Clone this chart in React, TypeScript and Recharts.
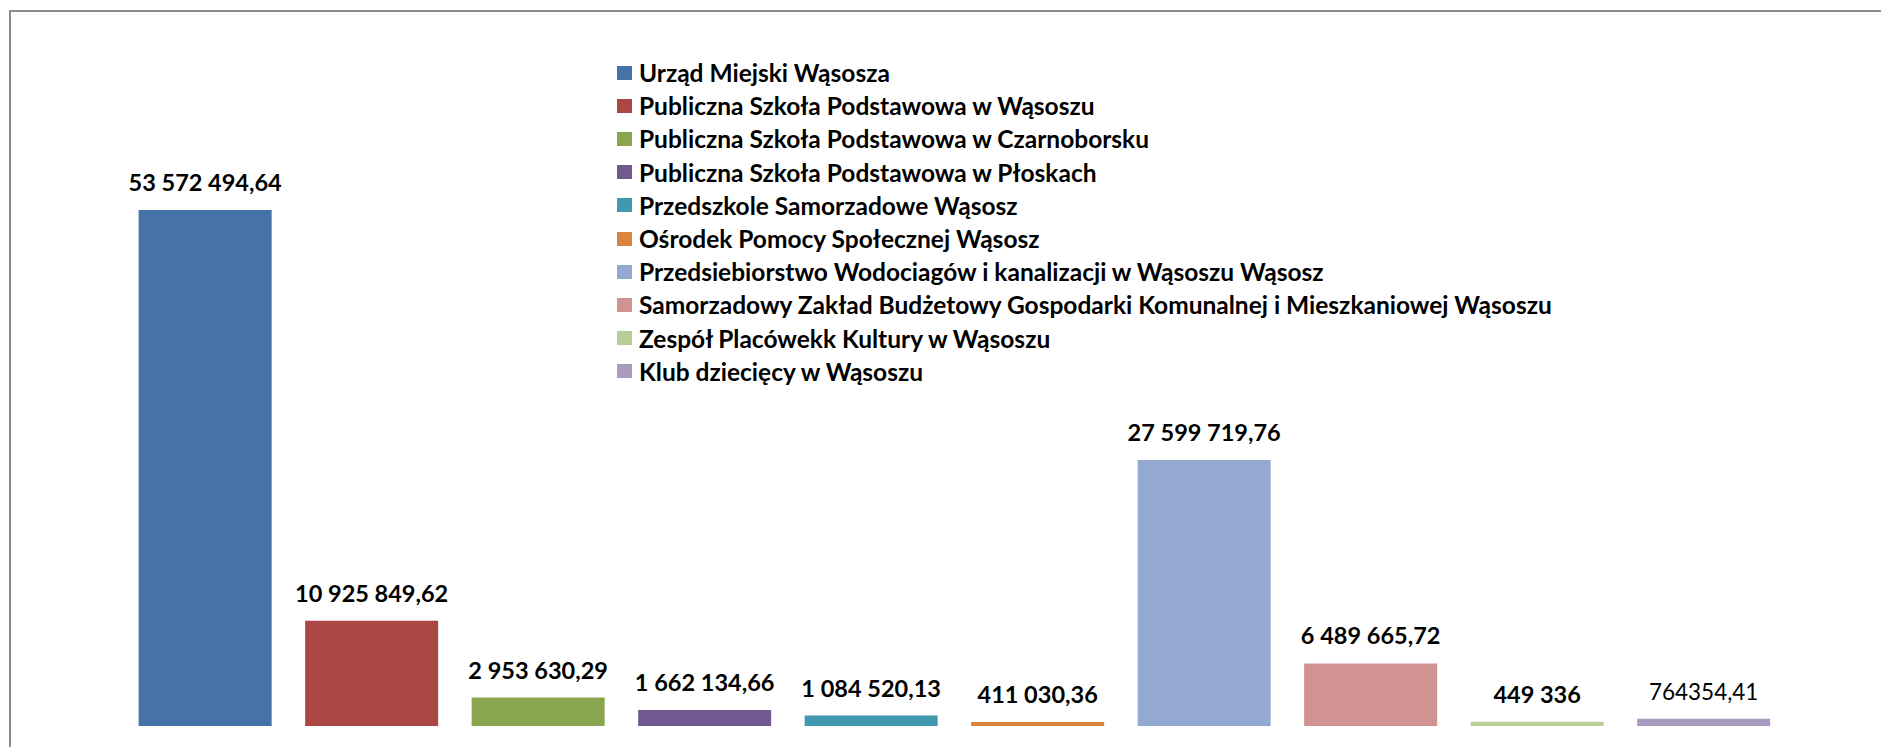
import { BarChart, Bar, XAxis, YAxis, Cell, LabelList, Legend } from "recharts";

const categories = [
  "Urząd Miejski Wąsosza",
  "Publiczna Szkoła Podstawowa w Wąsoszu",
  "Publiczna Szkoła Podstawowa w Czarnoborsku",
  "Publiczna Szkoła Podstawowa w Płoskach",
  "Przedszkole Samorzadowe Wąsosz",
  "Ośrodek Pomocy Społecznej Wąsosz",
  "Przedsiebiorstwo Wodociagów i kanalizacji w Wąsoszu Wąsosz",
  "Samorzadowy Zakład Budżetowy Gospodarki Komunalnej i Mieszkaniowej Wąsoszu",
  "Zespół Placówekk Kultury w Wąsoszu",
  "Klub dziecięcy w Wąsoszu",
];

const values = [
  53572494.64, 10925849.62, 2953630.29, 1662134.66, 1084520.13, 411030.36,
  27599719.76, 6489665.72, 449336, 764354.41,
];

const valueLabels = [
  "53 572 494,64",
  "10 925 849,62",
  "2 953 630,29",
  "1 662 134,66",
  "1 084 520,13",
  "411 030,36",
  "27 599 719,76",
  "6 489 665,72",
  "449 336",
  "764354,41",
];

// last label is not bold in the original
const boldLabels = [true, true, true, true, true, true, true, true, true, false];

const colors = [
  "#4572A7",
  "#AA4643",
  "#89A54E",
  "#71588F",
  "#4198AF",
  "#DB843D",
  "#93A9CF",
  "#D19392",
  "#B9CD96",
  "#A99BBD",
];

const data = categories.map((name, i) => ({
  name,
  value: values[i],
  label: valueLabels[i],
}));

const FONT = "Lato, 'Open Sans', sans-serif";

function ValueLabel(props: any) {
  const { x, y, width, value } = props;
  const i = valueLabels.indexOf(value);
  const bold = boldLabels[i];
  return (
    <text
      x={x + width / 2}
      y={y - 19}
      textAnchor="middle"
      fill="#000"
      fontFamily={FONT}
      fontSize={bold ? 23.5 : 22.5}
      fontWeight={bold ? 700 : 400}
    >
      {value}
    </text>
  );
}

function LegendList() {
  return (
    <div style={{ fontFamily: FONT, fontSize: 24.5, fontWeight: 700, color: "#000" }}>
      {categories.map((c, i) => (
        <div key={c} style={{ height: 33.2, display: "flex", alignItems: "center", whiteSpace: "nowrap" }}>
          <span style={{ width: 15, height: 14, background: colors[i], marginRight: 7, display: "inline-block" }} />
          {c}
        </div>
      ))}
    </div>
  );
}

export default function App() {
  return (
    <div
      style={{
        position: "absolute",
        left: 0,
        top: 0,
        width: 1881,
        height: 747,
        overflow: "hidden",
        background: "#fff",
      }}
    >
      <div
        style={{
          position: "absolute",
          left: 9,
          top: 10,
          width: 2000,
          height: 1000,
          borderTop: "2px solid #8c8c8c",
          borderLeft: "2px solid #8c8c8c",
        }}
      />
      <div style={{ position: "absolute", left: 0, top: 0 }}>
        <BarChart
          width={1881}
          height={747}
          data={data}
          margin={{ top: 148, right: 94, bottom: 21, left: 122 }}
          barCategoryGap="10%"
        >
          <XAxis dataKey="name" hide />
          <YAxis hide domain={[0, 60000000]} />
          <Legend
            layout="vertical"
            align="center"
            verticalAlign="middle"
            content={() => <LegendList />}
            wrapperStyle={{ position: "absolute", left: 617, top: 56, width: "auto" }}
          />
          <Bar dataKey="value" isAnimationActive={false}>
            {data.map((d, i) => (
              <Cell key={d.name} fill={colors[i]} />
            ))}
            <LabelList dataKey="label" content={ValueLabel} />
          </Bar>
        </BarChart>
      </div>
    </div>
  );
}
